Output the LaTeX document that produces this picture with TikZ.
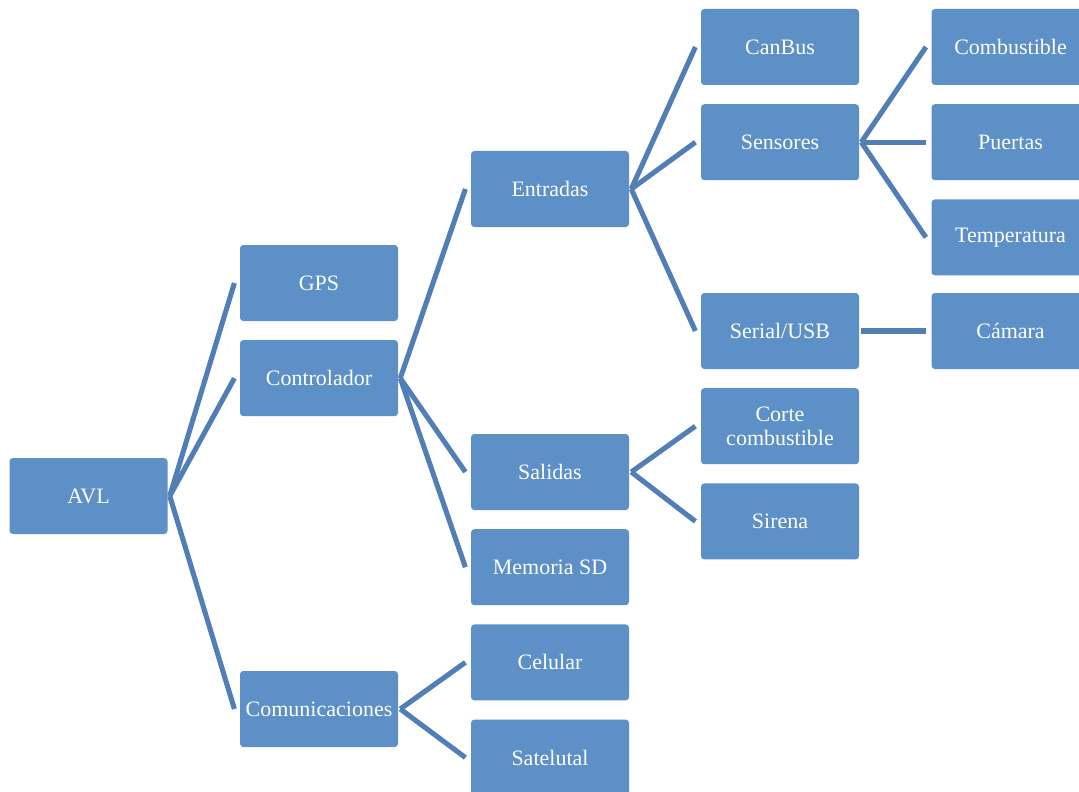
\documentclass[tikz,border=0pt]{standalone}
\usepackage{fontspec}
\setmainfont{Liberation Serif}
\usepackage{tikz}
\usetikzlibrary{positioning}
\definecolor{boxblue}{RGB}{92,144,198}
\definecolor{lineblue}{RGB}{80,126,181}
\tikzset{
    item/.style={rectangle,rounded corners=2.5pt,fill=boxblue,text=white,text centered,
        minimum width=118.5pt,minimum height=57pt,inner sep=1pt,align=center,
        font=\fontsize{16.5}{16.5}\selectfont},
    link/.style={draw=lineblue,line width=3.8pt},
}

\begin{document}
\begin{tikzpicture}[x=0.75pt,y=-0.75pt]
\useasboundingbox (0,0) rectangle (1079,792);
% level 0 and 1
\node[item](AVL) at (88.5,496) {AVL};
\node[item](GPS) at (319,283) {GPS};
\node[item](Ctrl) [below=14pt of GPS] {Controlador};
\node[item](Com) at (319,709) {Comunicaciones};
% level 2
\node[item](Ent) at (550,189) {Entradas};
\node[item](Sal) at (550,472) {Salidas};
\node[item](Mem) [below=14pt of Sal] {Memoria SD};
\node[item](Cel) [below=14pt of Mem] {Celular};
\node[item](Sat) [below=14pt of Cel] {Satelutal};
% level 3
\node[item](Can) at (780,47) {CanBus};
\node[item](Sen) [below=14pt of Can] {Sensores};
\node[item](Ser) at (780,331) {Serial/USB};
\node[item](Cor) [below=14pt of Ser] {Corte\\[1pt]combustible};
\node[item](Sir) [below=14pt of Cor] {Sirena};
% level 4
\node[item](Comb) [right=54pt of Can] {Combustible};
\node[item](Pue) [right=54pt of Sen] {Puertas};
\node[item](Tem) [below=14pt of Pue] {Temperatura};
\node[item](Cam) [right=54pt of Ser] {Cámara};

\foreach \a/\b in {AVL/GPS,AVL/Ctrl,AVL/Com,Ctrl/Ent,Ctrl/Sal,Ctrl/Mem,Com/Cel,Com/Sat,
    Ent/Can,Ent/Sen,Ent/Ser,Sal/Cor,Sal/Sir,Sen/Comb,Sen/Pue,Sen/Tem,Ser/Cam}
    \draw[link] ([xshift=1.5pt]\a.east) -- ([xshift=-4pt]\b.west);
\end{tikzpicture}
\end{document}
